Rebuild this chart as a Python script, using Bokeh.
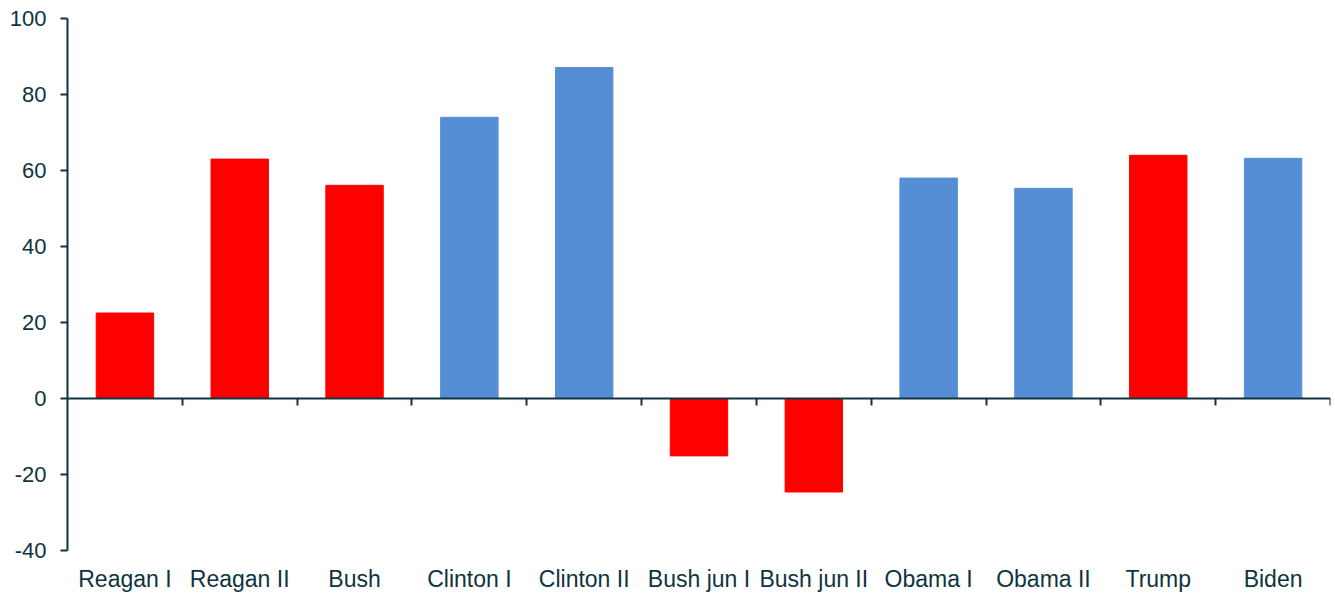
from bokeh.plotting import figure
from bokeh.models import ColumnDataSource, Range1d, LinearAxis, FixedTicker
from bokeh.embed import file_html
from bokeh.resources import INLINE

categories = ["Reagan I", "Reagan II", "Bush", "Clinton I", "Clinton II", "Bush jun I",
              "Bush jun II", "Obama I", "Obama II", "Trump", "Biden"]
values = [22.5, 63.0, 56.1, 74.0, 87.1, -15.1, -24.6, 58.0, 55.3, 64.0, 63.2]
party = ["R", "R", "R", "D", "D", "R", "R", "D", "D", "R", "D"]
y_ticks = [-40, -20, 0, 20, 40, 60, 80, 100]

RED = "#FF0000"
BLUE = "#558ED5"
INK = "#0E3441"
FONT = "Liberation Sans"

xs = [i + 0.5 for i in range(len(categories))]
colors = [RED if p == "R" else BLUE for p in party]
src = ColumnDataSource(dict(x=xs, top=values, color=colors))

p = figure(width=1335, height=594, output_backend="svg", toolbar_location=None,
           x_range=Range1d(0, len(categories)), y_range=Range1d(-40, 100),
           min_border_left=67, min_border_right=5, min_border_top=18, min_border_bottom=43)
p.outline_line_color = None
p.grid.visible = False
p.background_fill_color = "white"
p.border_fill_color = "white"

p.vbar(x="x", top="top", bottom=0, width=0.5, color="color", source=src)

# category labels axis (bottom)
xa = p.xaxis[0]
xa.ticker = FixedTicker(ticks=xs)
xa.major_label_overrides = {x: c for x, c in zip(xs, categories)}
xa.axis_line_color = None
xa.major_tick_line_color = None
xa.minor_tick_line_color = None
xa.major_tick_out = 0
xa.major_label_standoff = 15
xa.major_label_text_font = FONT
xa.major_label_text_font_size = "23px"
xa.major_label_text_color = INK

# zero line axis with boundary ticks
za = LinearAxis(fixed_location=0, ticker=FixedTicker(ticks=list(range(1, len(categories) + 1))))
za.axis_line_color = INK
za.axis_line_width = 2
za.major_tick_line_color = INK
za.major_tick_line_width = 2
za.major_tick_out = 7
za.major_tick_in = 0
za.minor_tick_line_color = None
za.major_label_text_font_size = "0px"
za.major_label_text_alpha = 0
p.add_layout(za, "below")

ya = p.yaxis[0]
ya.ticker = FixedTicker(ticks=y_ticks)
ya.major_label_overrides = {t: str(t) for t in y_ticks}
ya.axis_line_color = INK
ya.axis_line_width = 2
ya.major_tick_line_color = INK
ya.major_tick_line_width = 2
ya.major_tick_out = 7
ya.major_tick_in = 0
ya.minor_tick_line_color = None
ya.major_label_standoff = 14
ya.major_label_text_font = FONT
ya.major_label_text_font_size = "22px"
ya.major_label_text_color = INK

open("out.html", "w").write(file_html(p, INLINE))
